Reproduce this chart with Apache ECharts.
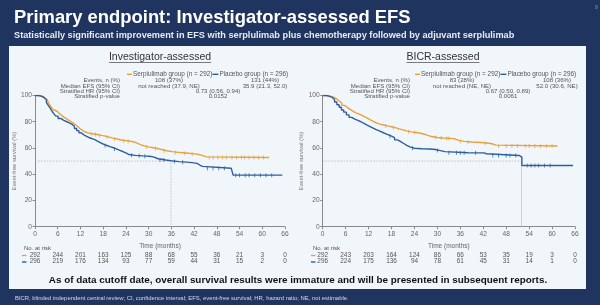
<!DOCTYPE html>
<html><head><meta charset="utf-8">
<script src="https://cdn.jsdelivr.net/npm/echarts@6/dist/echarts.min.js"></script>
<style>
html,body{margin:0;padding:0;background:#203460;}
#wrap{position:relative;width:600px;height:305px;overflow:hidden;}
#panel{position:absolute;left:9px;top:46px;width:577px;height:243px;background:#f1f6fb;}
#c{position:absolute;left:0;top:0;width:600px;height:305px;}
</style>
</head><body><div id="wrap"><div id="panel"></div><div id="c"></div></div>
<script>
// ---------------- data ----------------
const xTicks = [0,6,12,18,24,30,36,42,48,54,60,66];
const yTicks = [0,20,40,60,80,100];

// Investigator-assessed KM curves [month, EFS %]
const invSerp = [[0,100],[1.2,99.3],[2,98.3],[2.6,97],[3.2,95.5],[3.7,93.5],[4.2,91.5],[4.7,89.5],[5.2,88],[5.8,86.5],[6.4,85],[7,83.5],[7.6,82.3],[8.3,81],[9,80],[9.6,78.8],[10.2,77.5],[10.8,76],[11.4,74.5],[12,73.2],[12.6,72.2],[13.3,71.3],[14.2,70.8],[15.2,70.3],[16.4,69.6],[17.5,69],[18.6,68.3],[19.6,67.5],[20.6,66.8],[21.7,66.1],[22.8,65.6],[24,65.1],[25.2,64.6],[26.2,63.7],[27,62.6],[27.8,61.6],[28.8,60.8],[30,60.2],[31.2,59.6],[32.4,58.8],[33.5,57.9],[34.8,57.2],[36.2,56.5],[38.5,56],[40.5,55.5],[42.3,54.8],[43.6,54],[44.5,53.2],[45.3,52.7],[61.8,52.7]];
const invPlac = [[0,100],[1,99.3],[1.8,98.3],[2.4,96.8],[3,94.8],[3.5,92.5],[4,90.3],[4.5,88],[5,86],[5.5,84.3],[6.1,82.5],[6.8,81],[7.6,80],[8.4,79],[9.2,78],[9.8,76.5],[10.4,74.8],[11,73.2],[11.6,71.6],[12.2,70.2],[12.8,69],[13.5,68],[14.2,67.2],[15,66.3],[15.8,65],[16.6,63.8],[17.4,62.8],[18.2,61.9],[19,61],[19.8,60.2],[20.7,59.2],[21.6,58.2],[22.4,57.3],[23.2,56.2],[24,55],[24.8,54.4],[26.5,54],[28.5,53.7],[30.2,53.2],[31.2,51.8],[32.5,50.8],[34.5,50.3],[35.9,49.6],[38,49.2],[40,48.8],[41.5,48.3],[42.8,47],[43.5,46],[44.2,44.6],[51.8,44.6],[52.3,39.3],[65.3,39.3]];
// BICR-assessed KM curves
const bicrSerp = [[0,100],[1.2,99.3],[2.2,98.5],[3,97.3],[3.7,95.8],[4.3,94.3],[5,92.5],[5.7,91],[6.4,89.6],[7.1,88.3],[7.8,87],[8.6,86],[9.4,85],[10.2,83.8],[11,82.5],[11.8,81.2],[12.6,80],[13.4,79],[14.2,78.2],[15,77.5],[16,76.8],[17,76.2],[18,75.5],[19,74.6],[20,73.8],[21,73],[22,72.3],[23.2,71.8],[24.5,71.2],[25.6,70.5],[26.6,69.6],[27.5,68.7],[28.5,68],[30,67.6],[31.5,67.3],[33.5,67],[34.6,66],[35.4,65],[37,64.6],[39,64.2],[41.5,63.6],[43.5,63],[44.6,62.2],[45.3,61.5],[61.4,61.5]];
const bicrPlac = [[0,100],[1,99.3],[1.8,98.5],[2.5,97],[3.1,95],[3.7,93],[4.3,91],[4.9,89],[5.5,87.3],[6.2,85.2],[6.9,83.3],[7.6,82],[8.4,81],[9.2,80],[10,78.7],[10.8,77.4],[11.6,76.3],[12.4,75.2],[13.2,74],[14,73],[14.8,72],[15.6,71],[16.4,70],[17.2,69],[18,67.8],[18.8,66.2],[19.6,64.8],[20.4,63.4],[21.2,62],[22,60.8],[22.8,59.8],[24,59.4],[26,59.2],[28,58.8],[29.5,58],[30.8,57.2],[32,56.4],[38,56.3],[42.2,55.6],[42.8,54.3],[51.4,54.3],[51.8,53],[52.1,46.6],[65.5,46.6]];

// censoring marks [month, EFS %]
const invSerpCens = [[14.8,70.8],[16,70.3],[17,69.6],[19,68.3],[21,66.8],[23.4,65.6],[24.6,65.1],[29.5,60.8],[31.8,59.6],[34,57.9],[37,56.5],[39.5,56],[41.5,55.5],[46,52.7],[47,52.7],[48.3,52.7],[49.5,52.7],[50.5,52.7],[52,52.7],[53.2,52.7],[54.5,52.7],[55.3,52.7],[56.5,52.7],[57.8,52.7],[59,52.7],[60.3,52.7]];
const invPlacCens = [[18.5,61.9],[21,59.2],[25.5,54.4],[27.5,54],[29,53.7],[33,50.8],[34,50.8],[36.8,49.6],[39,49.2],[45.5,44.6],[47,44.6],[48.5,44.6],[50,44.6],[53,39.3],[54,39.3],[55.5,39.3],[56.5,39.3],[58,39.3],[59.5,39.3],[61,39.3],[62.5,39.3]];
const bicrSerpCens = [[16.5,76.8],[18.5,75.5],[22.5,72.3],[24,71.8],[29.5,68],[31,67.6],[32.5,67.3],[33,67.3],[36,65],[38,64.6],[42.5,63.6],[46,61.5],[48,61.5],[49.5,61.5],[51,61.5],[53,61.5],[54,61.5],[55.5,61.5],[57,61.5],[58.5,61.5],[60,61.5]];
const bicrPlacCens = [[17.6,69],[23.5,59.8],[30,58],[33,56.4],[35,56.4],[36,56.4],[37,56.4],[40,56.3],[44.5,54.3],[46,54.3],[48,54.3],[49,54.3],[50.5,54.3],[53.5,46.6],[54.5,46.6],[55.5,46.6],[56.5,46.6],[58,46.6],[59.5,46.6]];

const medianInvPlac = 35.9;
const medianBicrPlac = 52.0;

// numbers at risk
const invRiskSerp = [292,244,201,163,125,88,68,55,36,21,3,0];
const invRiskPlac = [296,219,176,134,93,77,59,44,31,15,2,0];
const bicrRiskSerp = [292,243,203,164,124,86,66,53,35,19,3,0];
const bicrRiskPlac = [296,224,175,136,94,78,61,45,31,14,1,0];

// text
const titleText = 'Primary endpoint: Investigator-assessed EFS';
const subtitleText = 'Statistically significant improvement in EFS with serplulimab plus chemotherapy followed by adjuvant serplulimab';
const panelTitles = ['Investigator-assessed','BICR-assessed'];
const legendSerp = 'Serplulimab group (n = 292)';
const legendPlac = 'Placebo group (n = 296)';
const statLabels = ['Events, n (%)','Median EFS (95% CI)','Stratified HR (95% CI)','Stratified p-value'];
const invStats = [['108 (37%)','131 (44%)'],['not reached (37.9, NE)','35.9 (21.3, 52.0)'],['0.73 (0.56, 0.94)'],['0.0152']];
const bicrStats = [['83 (28%)','108 (36%)'],['not reached (NE, NE)','52.0 (30.6, NE)'],['0.67 (0.50, 0.89)'],['0.0061']];
const bottomText = 'As of data cutoff date, overall survival results were immature and will be presented in subsequent reports.';
const footText = 'BICR, blinded independent central review; CI, confidence interval; EFS, event-free survival; HR, hazard ratio; NE, not estimable.';

// ---------------- drawing ----------------
const FONT = "'Liberation Sans', Arial, sans-serif";
const ORANGE = '#e8a13c';
const BLUE = '#2d5f9e';
const GRAY = '#555';
const mctx = document.createElement('canvas').getContext('2d');
function tw(text, size, weight){ mctx.font = (weight||'normal')+' '+size+'px '+FONT; return mctx.measureText(text).width; }
function T(x,y,text,o){ o=o||{}; return {type:'text', x:x, y:y, silent:true, z:10,
  style:{text:text, fill:o.c||GRAY, font:(o.w||'normal')+' '+(o.s||6.1)+'px '+FONT,
    textAlign:o.a||'left', textVerticalAlign:'middle', align:o.a||'left', verticalAlign:'middle'}}; }
function L(x1,y1,x2,y2,c,w){ return {type:'line', silent:true, z:10, shape:{x1:x1,y1:y1,x2:x2,y2:y2}, style:{stroke:c, lineWidth:w||1}}; }

const grids = [
  {left:35, top:95.5, width:250, height:131.2},
  {left:322.7, top:95.5, width:252.3, height:131.2}
];
const panels = [
  {cx:160, lab:120, c1:169, c2:265, hr:218, legX:127, stats:invStats, riskX:24, dashX:22},
  {cx:443, lab:410, c1:462, c2:557, hr:508, legX:415, stats:bicrStats, riskX:313, dashX:311}
];
const rowY = [80.5, 85.9, 91.3, 96.7];
const graphics = [];
graphics.push(T(14, 17.5, titleText, {c:'#ffffff', w:'bold', s:18.4}));
graphics.push(T(14, 35.5, subtitleText, {c:'#e6eaf2', w:'bold', s:9.2}));
graphics.push(T(595, 8, '9', {c:'#8e9ab5', s:5}));
panels.forEach((p,i)=>{
  const ts = 10.5;
  graphics.push(T(p.cx, 57, panelTitles[i], {c:'#333', s:ts, a:'center'}));
  const w = tw(panelTitles[i], ts);
  graphics.push(L(p.cx-w/2, 62.5, p.cx+w/2, 62.5, '#444', 0.7));
  // legend
  const ls = 6.4, ly = 74.3;
  let x = p.legX;
  graphics.push(L(x, ly, x+5, ly, ORANGE, 1.4)); x += 6;
  graphics.push(T(x, ly, legendSerp, {s:ls})); x += tw(legendSerp, ls);
  graphics.push(L(x, ly, x+6, ly, BLUE, 1.4)); x += 7;
  graphics.push(T(x, ly, legendPlac, {s:ls}));
  // stats
  statLabels.forEach((lab,r)=>{
    graphics.push(T(p.lab, rowY[r], lab, {a:'right'}));
    const v = p.stats[r];
    if (v.length === 2) { graphics.push(T(p.c1, rowY[r], v[0], {a:'center'})); graphics.push(T(p.c2, rowY[r], v[1], {a:'center'})); }
    else graphics.push(T(p.hr, rowY[r], v[0], {a:'center'}));
  });
  // at risk header + dashes
  graphics.push(T(p.riskX, 248.5, 'No. at risk', {s:6}));
  graphics.push(L(p.dashX, 255.5, p.dashX+4.5, 255.5, ORANGE, 1.4));
  graphics.push(L(p.dashX, 262, p.dashX+4.5, 262, BLUE, 1.4));
});
graphics.push(T(298, 280.5, bottomText, {c:'#111', w:'bold', s:9.9, a:'center'}));
graphics.push(T(15, 298, footText, {c:'#d4dbea', s:5.9}));

function mainX(g){ return {type:'value', gridIndex:g, min:0, max:66, interval:6,
  axisLine:{show:true, lineStyle:{color:'#8a8a8a', width:1}}, axisTick:{show:true, length:2.5, lineStyle:{color:'#8a8a8a'}},
  splitLine:{show:false}, axisLabel:{color:'#666', fontSize:6.6, margin:3.5, fontFamily:FONT,
    formatter:v=>String(xTicks[Math.round(v/6)])},
  name:'Time (months)', nameLocation:'middle', nameGap:16, nameTextStyle:{color:'#666', fontSize:6.5, fontFamily:FONT}}; }
function riskX(g, arr, off){ return {type:'value', gridIndex:g, min:0, max:66, interval:6, position:'bottom', offset:off,
  axisLine:{show:false}, axisTick:{show:false}, splitLine:{show:false},
  axisLabel:{color:'#555', fontSize:6.4, margin:0, fontFamily:FONT, showMinLabel:true, showMaxLabel:true,
    formatter:v=>String(arr[Math.round(v/6)])}}; }
function Y(g){ return {type:'value', gridIndex:g, min:0, max:100, interval:20,
  axisLine:{show:true, lineStyle:{color:'#8a8a8a', width:1}}, axisTick:{show:true, length:2.5, lineStyle:{color:'#8a8a8a'}},
  splitLine:{show:false}, axisLabel:{color:'#666', fontSize:6.6, margin:3, fontFamily:FONT,
    formatter:v=>String(yTicks[Math.round(v/20)])},
  name:'Event-free survival (%)', nameLocation:'middle', nameGap:13, nameTextStyle:{color:'#777', fontSize:5.8, fontFamily:FONT}}; }

function km(data, color, xi, yi){ return {type:'line', step:'end', data:data, xAxisIndex:xi, yAxisIndex:yi, symbol:'none',
  lineStyle:{color:color, width:1.4}, z:5, silent:true, animation:false}; }
function cens(data, color, xi, yi){ return {type:'scatter', data:data, xAxisIndex:xi, yAxisIndex:yi, symbol:'rect', symbolSize:[0.9,4],
  itemStyle:{color:color}, z:6, silent:true, animation:false}; }
function guide(data, xi, yi, type, color){ return {type:'line', data:data, xAxisIndex:xi, yAxisIndex:yi, symbol:'none',
  lineStyle:{color:color||'#9aa0a8', width:0.6, type:type}, z:3, silent:true, animation:false}; }

const option = {
  animation:false,
  backgroundColor:'transparent',
  grid: grids,
  xAxis: [mainX(0), riskX(0, invRiskSerp, 25.5), riskX(0, invRiskPlac, 32), mainX(1), riskX(1, bicrRiskSerp, 25.5), riskX(1, bicrRiskPlac, 32)],
  yAxis: [Y(0), Y(1)],
  series: [
    guide([[0,50],[medianInvPlac,50],[medianInvPlac,0]], 0, 0, [1.5,1.5]),
    guide([[0,50],[medianBicrPlac,50]], 3, 1, [1.5,1.5]),
    guide([[medianBicrPlac,50],[medianBicrPlac,0]], 3, 1, 'solid', '#b6bcc4'),
    km(invSerp, ORANGE, 0, 0), km(invPlac, BLUE, 0, 0),
    cens(invSerpCens, ORANGE, 0, 0), cens(invPlacCens, BLUE, 0, 0),
    km(bicrSerp, ORANGE, 3, 1), km(bicrPlac, BLUE, 3, 1),
    cens(bicrSerpCens, ORANGE, 3, 1), cens(bicrPlacCens, BLUE, 3, 1)
  ],
  graphic: graphics
};
const chart = echarts.init(document.getElementById('c'), null, {renderer:'canvas', width:600, height:305});
chart.setOption(option);
</script>
</body></html>
